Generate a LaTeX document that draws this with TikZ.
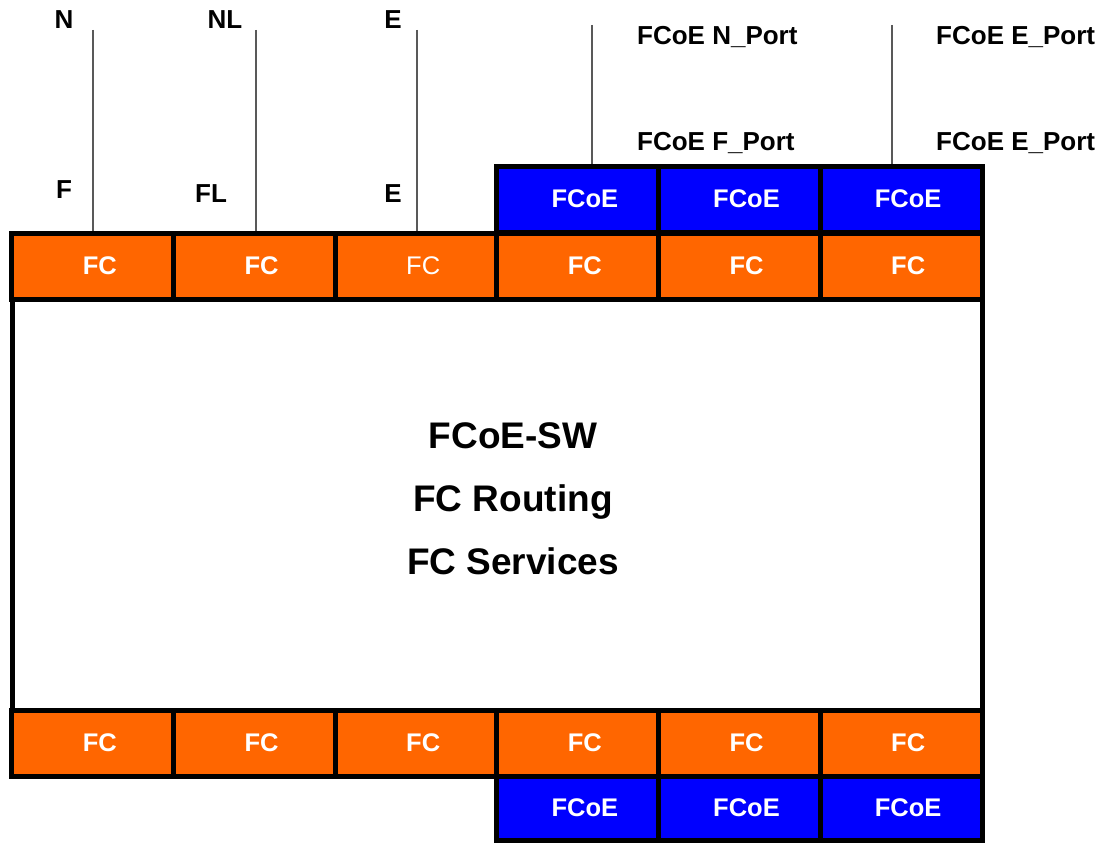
\documentclass[tikz,border=0pt]{standalone}
\usepackage{fontspec}
\setmainfont{Liberation Sans}
\definecolor{fcorange}{HTML}{FF6600}
\definecolor{fcoeblue}{HTML}{0000FF}
\begin{document}
\begin{tikzpicture}[x=1pt,y=-1pt,
  cell/.style={draw=black, line width=5pt, minimum width=161.67pt, minimum height=66pt,
    inner sep=0pt, text=white, font=\fontsize{25.5}{30}\selectfont\bfseries,
    execute at begin node={\hspace*{14pt}}},
  fccell/.style={cell, fill=fcorange},
  fcoecell/.style={cell, fill=fcoeblue},
  lbl/.style={font=\fontsize{26}{30}\selectfont\bfseries, inner sep=0pt},
  wire/.style={draw=black!65, line width=1.2pt}]
\useasboundingbox (0,0) rectangle (1104,843);
\fill[white] (0,0) rectangle (1104,843);

% main switch body
\node[draw=black, line width=5pt, minimum width=970pt, minimum height=411pt, inner sep=0pt] (main) at (497,504.5) {};
\node[font=\fontsize{37}{63}\selectfont\bfseries, align=center, inner sep=0pt] (title) at (513,499)
  {FCoE-SW\\FC Routing\\FC Services};

% top FC row
\node[fccell] (t1) at (92.8,266) {FC};
\node[fccell] (t2) at (254.5,266) {FC};
\node[fccell, font=\fontsize{25.5}{30}\selectfont] (t3) at (416.2,266) {FC};
\node[fccell] (t4) at (577.8,266) {FC};
\node[fccell] (t5) at (739.5,266) {FC};
\node[fccell] (t6) at (901.2,266) {FC};
% top FCoE row
\node[fcoecell, text depth=-1pt] (u4) at (577.8,199) {FCoE};
\node[fcoecell, text depth=-1pt] (u5) at (739.5,199) {FCoE};
\node[fcoecell, text depth=-1pt] (u6) at (901.2,199) {FCoE};

% bottom FC row
\node[fccell] (b1) at (92.8,743) {FC};
\node[fccell] (b2) at (254.5,743) {FC};
\node[fccell] (b3) at (416.2,743) {FC};
\node[fccell] (b4) at (577.8,743) {FC};
\node[fccell] (b5) at (739.5,743) {FC};
\node[fccell] (b6) at (901.2,743) {FC};
% bottom FCoE row
\node[fcoecell, minimum height=64pt, text depth=-2pt] (c4) at (577.8,808) {FCoE};
\node[fcoecell, minimum height=64pt, text depth=-2pt] (c5) at (739.5,808) {FCoE};
\node[fcoecell, minimum height=64pt, text depth=-2pt] (c6) at (901.2,808) {FCoE};

% wires
\coordinate (w1) at (93,30);
\coordinate (w2) at (256,30);
\coordinate (w3) at (417,30);
\coordinate (w4) at (592,25);
\coordinate (w6) at (892,25);
\draw[wire] (w1) -- (w1 |- t1.north);
\draw[wire] (w2) -- (w2 |- t2.north);
\draw[wire] (w3) -- (w3 |- t3.north);
\draw[wire] (w4) -- (w4 |- u4.north);
\draw[wire] (w6) -- (w6 |- u6.north);

% labels
\node[lbl, anchor=base] (lN) at (64,29) {N};
\node[lbl, anchor=base] (lF) at (64,198) {F};
\node[lbl, anchor=base] (lNL) at (225,29) {NL};
\node[lbl, anchor=base] (lFL) at (211,202) {FL};
\node[lbl, anchor=base] (lE1) at (393,29) {E};
\node[lbl, anchor=base] (lE2) at (393,202) {E};
\node[lbl, anchor=base west] (lfn) at (637,45) {FCoE N\_Port};
\node[lbl, anchor=base west] (lff) at (637,150) {FCoE F\_Port};
\node[lbl, anchor=base west] (lfe1) at (936,45) {FCoE E\_Port};
\node[lbl, anchor=base west] (lfe2) at (936,150) {FCoE E\_Port};
\end{tikzpicture}
\end{document}
